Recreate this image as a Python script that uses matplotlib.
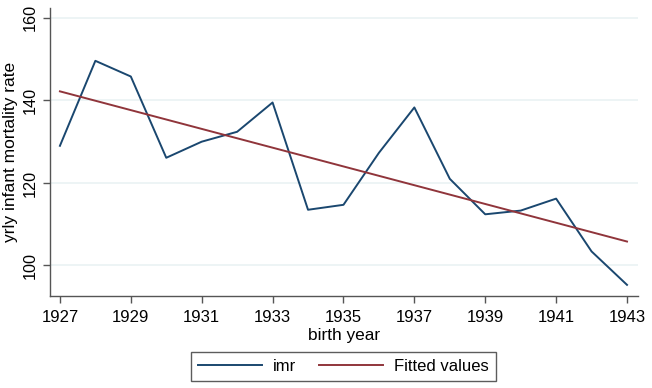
import matplotlib
matplotlib.use("Agg")
import matplotlib.pyplot as plt

years = [1927, 1928, 1929, 1930, 1931, 1932, 1933, 1934, 1935,
         1936, 1937, 1938, 1939, 1940, 1941, 1942, 1943]
imr = [129.0, 149.6, 145.8, 126.1, 130.0, 132.4, 139.5, 113.5, 114.7,
       127.3, 138.3, 121.0, 112.4, 113.3, 116.2, 103.4, 95.3]
fit_years = [1927, 1943]
fit_values = [142.2, 105.8]
xticks = [1927, 1929, 1931, 1933, 1935, 1937, 1939, 1941, 1943]
yticks = [100, 120, 140, 160]

plt.rcParams['font.family'] = ['Liberation Sans', 'DejaVu Sans']

fig = plt.figure(figsize=(6.52, 3.88), dpi=100)
ax = fig.add_axes([50/652, 1-296/388, (638-50)/652, (296-8)/388])

navy = '#1a476f'
maroon = '#90353b'
ax.plot(years, imr, color=navy, lw=1.4, label='imr')
ax.plot(fit_years, fit_values, color=maroon, lw=1.4, label='Fitted values')

ax.set_xlim(1926.72, 1943.31)
ax.set_ylim(92.6, 162.4)
ax.set_xticks(xticks)
ax.set_yticks(yticks)
ax.set_xticklabels([str(t) for t in xticks], fontsize=12)
ax.set_yticklabels([str(t) for t in yticks], fontsize=11.7, rotation=90, va='center')
ax.grid(axis='y', color='#eaf2f3', lw=1.2)
ax.set_axisbelow(True)
for s in ['top', 'right']:
    ax.spines[s].set_visible(False)
for s in ['left', 'bottom']:
    ax.spines[s].set_color('#555555')
    ax.spines[s].set_linewidth(1.0)
ax.tick_params(axis='both', colors='#555555', length=5, width=1.0, labelcolor='black')
ax.tick_params(axis='x', pad=5)
ax.tick_params(axis='y', pad=4)
ax.set_xlabel('birth year', fontsize=12.4, labelpad=2)
ax.set_ylabel('yrly infant mortality rate', fontsize=12.5, labelpad=3)

leg = fig.legend(loc='center', bbox_to_anchor=((189+498)/2/652, 1-(350.7+382)/2/388),
                 ncol=2, fontsize=12, frameon=True, fancybox=False,
                 handlelength=3.84, columnspacing=1.38, handletextpad=0.66,
                 borderpad=0.42)
leg.get_frame().set_edgecolor('#333333')
leg.get_frame().set_linewidth(1.0)

fig.savefig('out.png', dpi=100)
